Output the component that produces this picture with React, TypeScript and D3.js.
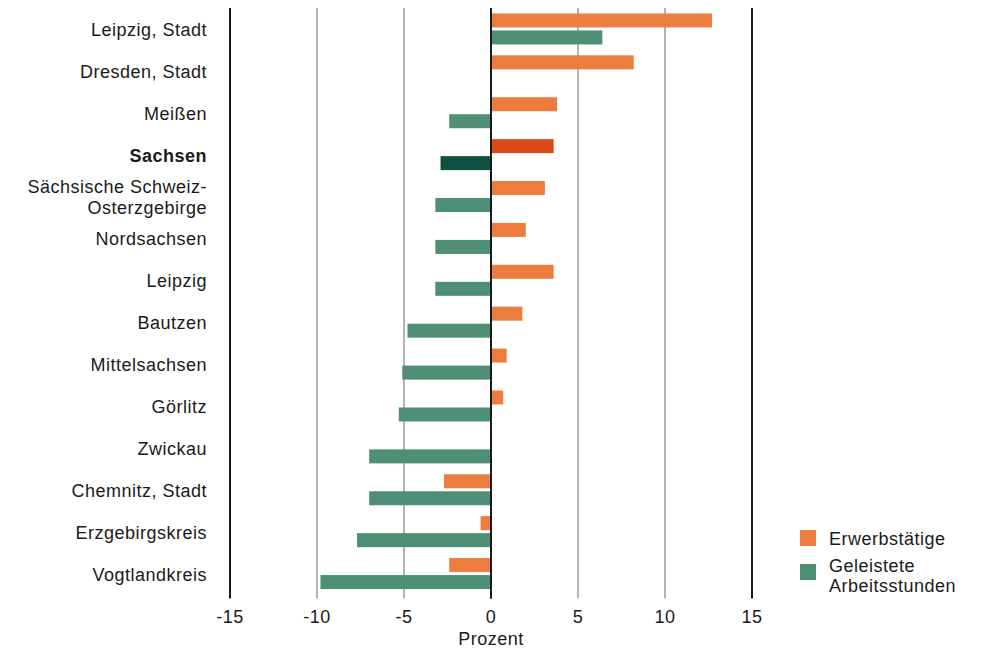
import * as d3 from "d3";

const regions = [
  "Leipzig, Stadt",
  "Dresden, Stadt",
  "Meißen",
  "Sachsen",
  "Sächsische Schweiz-\nOsterzgebirge",
  "Nordsachsen",
  "Leipzig",
  "Bautzen",
  "Mittelsachsen",
  "Görlitz",
  "Zwickau",
  "Chemnitz, Stadt",
  "Erzgebirgskreis",
  "Vogtlandkreis",
];
// Veränderung in Prozent
const erwerbstaetige = [12.7, 8.2, 3.8, 3.6, 3.1, 2.0, 3.6, 1.8, 0.9, 0.7, 0, -2.7, -0.6, -2.4];
const arbeitsstunden = [6.4, 0, -2.4, -2.9, -3.2, -3.2, -3.2, -4.8, -5.1, -5.3, -7.0, -7.0, -7.7, -9.8];
const xTicks = [-15, -10, -5, 0, 5, 10, 15];
const highlight = "Sachsen";

const ORANGE = "#ed7d3f";
const GREEN = "#4f8f76";
const ORANGE_DARK = "#dc4a17";
const GREEN_DARK = "#0c5141";

const font = "'Liberation Sans', Arial, sans-serif";
const fs = 18;
const ls = 0.5;

export default function App() {
  const width = 1001;
  const height = 667;
  const top = 8;
  const bottom = 594.5;

  const x = d3.scaleLinear().domain([-15, 15]).range([230, 752]);
  const y = d3.scaleBand<number>().domain(d3.range(regions.length)).range([top, bottom]);
  const bw = y.bandwidth();
  const barH = 14;
  const pad = (bw - 2 * barH - 3) / 2;

  const gridColor = (t: number) => (Math.abs(t) === 15 || t === 0 ? "#1a1a1a" : "#9a9a9a");

  return (
    <svg
      width={width}
      height={height}
      style={{ position: "absolute", left: 0, top: 0, fontFamily: font, letterSpacing: ls }}
    >
      <rect width={width} height={height} fill="#fff" />
      {xTicks.map((t) => (
        <g key={t}>
          <line
            x1={x(t)}
            x2={x(t)}
            y1={top}
            y2={bottom + 4}
            stroke={gridColor(t)}
            strokeWidth={Math.abs(t) === 15 || t === 0 ? 2 : 1.5}
          />
          <text x={x(t)} y={623} textAnchor="middle" fontSize={fs} fill="#1a1a1a">
            {t}
          </text>
        </g>
      ))}
      {regions.map((r, i) => {
        const y0 = y(i)!;
        const hi = r === highlight;
        const e = erwerbstaetige[i];
        const a = arbeitsstunden[i];
        return (
          <g key={r}>
            {e !== 0 && (
              <rect
                x={Math.min(x(0), x(e))}
                y={y0 + pad}
                width={Math.abs(x(e) - x(0))}
                height={barH}
                fill={hi ? ORANGE_DARK : ORANGE}
              />
            )}
            {a !== 0 && (
              <rect
                x={Math.min(x(0), x(a))}
                y={y0 + pad + barH + 3}
                width={Math.abs(x(a) - x(0))}
                height={barH}
                fill={hi ? GREEN_DARK : GREEN}
              />
            )}
          </g>
        );
      })}
      <line x1={x(0)} x2={x(0)} y1={top} y2={bottom + 4} stroke="#1a1a1a" strokeWidth={2} />
      {regions.map((r, i) => {
        const lines = r.split("\n");
        const cy = y(i)! + bw / 2;
        const lh = 21;
        const y1 = cy - ((lines.length - 1) * lh) / 2;
        return (
          <text
            key={r}
            x={207}
            textAnchor="end"
            fontSize={fs}
            fill="#1a1a1a"
            fontWeight={r === highlight ? "bold" : "normal"}
          >
            {lines.map((l, k) => (
              <tspan key={k} x={207} y={y1 + k * lh + 7}>
                {l}
              </tspan>
            ))}
          </text>
        );
      })}
      <text x={x(0)} y={645} textAnchor="middle" fontSize={fs} fill="#1a1a1a">
        Prozent
      </text>
      <g fontSize={fs} fill="#1a1a1a">
        <rect x={800} y={530} width={16} height={16} fill={ORANGE} />
        <text x={829} y={545}>Erwerbstätige</text>
        <rect x={800} y={564} width={16} height={16} fill={GREEN} />
        <text x={829} y={572}>Geleistete</text>
        <text x={829} y={592}>Arbeitsstunden</text>
      </g>
    </svg>
  );
}
